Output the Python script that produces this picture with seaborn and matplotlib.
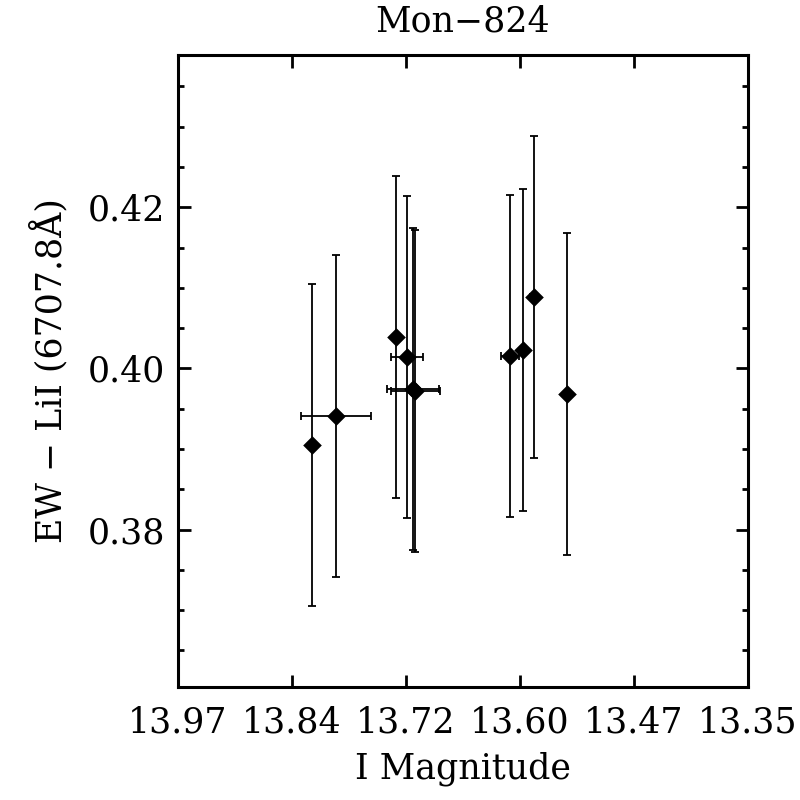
import numpy as np
import pandas as pd
import matplotlib
matplotlib.use("Agg")
import matplotlib.pyplot as plt
from matplotlib.ticker import MultipleLocator
import seaborn as sns

# -----------------------------------------
# DATA
# -----------------------------------------
imag = [13.8224, 13.7970, 13.7313, 13.7197, 13.7135, 13.7110, 13.6080, 13.5940, 13.5823, 13.5466]
imag_err = [0.004, 0.038, 0.004, 0.0177, 0.028, 0.0266, 0.010, 0.002, 0.004, 0.0]
ew_li = [0.39045, 0.39407, 0.40394, 0.40138, 0.39748, 0.39723, 0.40153, 0.40229, 0.40890, 0.39684]
ew_err = [0.020] * 10

xtick_labels = ["13.97", "13.84", "13.72", "13.60", "13.47", "13.35"]
x_range = (13.968, 13.350)

df = pd.DataFrame({"imag": imag, "ew": ew_li})

# -----------------------------------------
# STYLE (IDL-like box plot)
# -----------------------------------------
sns.set_theme(style="ticks")
plt.rcParams["font.family"] = ["DejaVu Serif"]
plt.rcParams["text.color"] = "black"
plt.rcParams["axes.labelcolor"] = "black"

FS = 25

fig = plt.figure(figsize=(8, 8), dpi=100)
ax = fig.add_axes([0.2225, 0.14125, 0.7125, 0.79])

ax.errorbar(imag, ew_li, xerr=imag_err, yerr=ew_err, fmt="none",
            ecolor="black", elinewidth=1.3, capsize=3.2, capthick=1.3)
sns.scatterplot(data=df, x="imag", y="ew", marker="D", s=90,
                color="black", edgecolor="black", linewidth=0, ax=ax, zorder=3)

ax.set_xlim(*x_range)
lo = min(np.array(ew_li) - np.array(ew_err)) - 0.01
hi = max(np.array(ew_li) + np.array(ew_err)) + 0.01
ax.set_ylim(lo, hi)

ax.set_xticks(np.linspace(x_range[0], x_range[1], len(xtick_labels)))
ax.set_xticklabels(xtick_labels)
ax.set_yticks([0.38, 0.40, 0.42])
ax.set_yticklabels(["0.38", "0.40", "0.42"])
ax.yaxis.set_minor_locator(MultipleLocator(0.005))

ax.tick_params(which="both", direction="in", top=True, right=True,
               width=2, colors="black", labelsize=FS)
ax.tick_params(which="major", length=9)
ax.tick_params(which="minor", length=4.5)
ax.tick_params(axis="x", pad=13)
ax.tick_params(axis="y", pad=9)

for sp in ax.spines.values():
    sp.set_visible(True)
    sp.set_linewidth(2.2)
    sp.set_color("black")

ax.set_xlabel("I Magnitude", fontsize=FS, labelpad=9)
ax.set_ylabel("EW − LiI (6707.8Å)", fontsize=FS, labelpad=14)
ax.set_title("Mon−824", fontsize=FS, pad=17)

fig.savefig("out.png", dpi=100)
plt.close(fig)
